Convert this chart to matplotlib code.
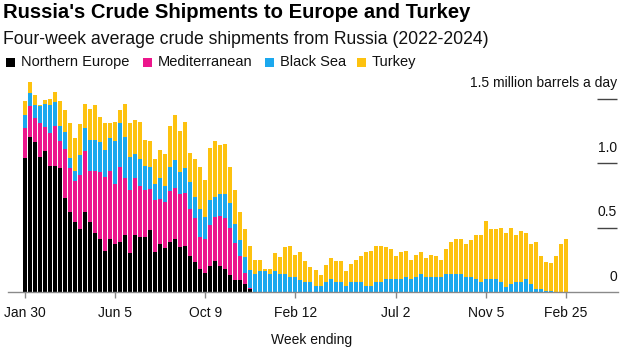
import matplotlib
matplotlib.use('Agg')
import matplotlib.pyplot as plt
from matplotlib.patches import Rectangle
import numpy as np
import pandas as pd

plt.rcParams['font.family'] = ['Liberation Sans', 'DejaVu Sans']

# ---------------- data (million barrels a day, four-week average) ----------------
week_ending = pd.date_range('2022-01-30', '2024-02-25', freq='7D')
n = len(week_ending)

northern_europe = [1.04, 1.20, 1.16, 1.05, 1.09, 0.98, 0.98, 0.96, 0.73, 0.62,
                   0.54, 0.49, 0.62, 0.54, 0.46, 0.41, 0.32, 0.41, 0.37, 0.39,
                   0.44, 0.30, 0.44, 0.43, 0.43, 0.48, 0.31, 0.37, 0.34, 0.39,
                   0.41, 0.35, 0.36, 0.28, 0.23, 0.18, 0.15, 0.20, 0.24, 0.20,
                   0.18, 0.13, 0.09, 0.09, 0.06, 0.02]
mediterranean = [0.23, 0.24, 0.19, 0.26, 0.19, 0.25, 0.31, 0.21, 0.38, 0.34,
                 0.32, 0.42, 0.47, 0.40, 0.48, 0.52, 0.57, 0.53, 0.47, 0.58,
                 0.44, 0.49, 0.44, 0.39, 0.36, 0.32, 0.40, 0.35, 0.36, 0.39,
                 0.40, 0.41, 0.41, 0.36, 0.34, 0.25, 0.26, 0.32, 0.34, 0.39,
                 0.39, 0.37, 0.29, 0.19, 0.09, 0.01]
black_sea = [0.10, 0.10, 0.10, 0.13, 0.18, 0.22, 0.18, 0.12, 0.13, 0.08,
             0.08, 0.15, 0.18, 0.24, 0.24, 0.23, 0.21, 0.25, 0.33, 0.34,
             0.32, 0.26, 0.19, 0.21, 0.19, 0.17, 0.13, 0.16, 0.12, 0.19,
             0.21, 0.17, 0.19, 0.21, 0.17, 0.21, 0.17, 0.19, 0.16, 0.17,
             0.19, 0.19, 0.15, 0.12, 0.12, 0.14, 0.14, 0.16, 0.16, 0.14,
             0.16, 0.14, 0.14, 0.12, 0.12, 0.09, 0.08, 0.08, 0.05, 0.05,
             0.08, 0.10, 0.08, 0.08, 0.05, 0.08, 0.08, 0.08, 0.05, 0.05,
             0.08, 0.08, 0.10, 0.10, 0.10, 0.10, 0.12, 0.10, 0.12, 0.14,
             0.12, 0.12, 0.12, 0.12, 0.14, 0.14, 0.14, 0.14, 0.12, 0.12,
             0.10, 0.08, 0.10, 0.10, 0.10, 0.08, 0.04, 0.06, 0.08, 0.08,
             0.10, 0.06, 0.02, 0.02, 0.005, 0.005, 0.0, 0.0, 0.0]
turkey = [0.11, 0.09, 0.08, 0.01, 0.03, 0.05, 0.08, 0.19, 0.17, 0.27,
          0.25, 0.24, 0.19, 0.24, 0.27, 0.20, 0.21, 0.12, 0.15, 0.10,
          0.26, 0.26, 0.26, 0.29, 0.20, 0.20, 0.19, 0.22, 0.25, 0.32,
          0.35, 0.32, 0.36, 0.23, 0.29, 0.33, 0.29, 0.41, 0.43, 0.38,
          0.39, 0.28, 0.26, 0.22, 0.22, 0.19, 0.11, 0.09, 0.02, 0.04,
          0.14, 0.13, 0.21, 0.24, 0.17, 0.22, 0.16, 0.11, 0.12, 0.08,
          0.13, 0.16, 0.16, 0.16, 0.11, 0.14, 0.17, 0.20, 0.26, 0.27,
          0.28, 0.28, 0.25, 0.23, 0.18, 0.21, 0.20, 0.15, 0.17, 0.17,
          0.14, 0.17, 0.16, 0.13, 0.19, 0.25, 0.27, 0.27, 0.25, 0.28,
          0.34, 0.36, 0.45, 0.39, 0.39, 0.42, 0.42, 0.44, 0.36, 0.39,
          0.36, 0.31, 0.37, 0.26, 0.23, 0.22, 0.28, 0.37, 0.41]

series_names = ["Northern Europe", "Mediterranean", "Black Sea", "Turkey"]
series_colors = ["#000000", "#ec168c", "#1ba8ee", "#fdc20f"]

tick_dates = ["2022-01-30", "2022-06-05", "2022-10-09", "2023-02-12",
              "2023-07-02", "2023-11-05", "2024-02-25"]
tick_labels = ["Jan 30", "Jun 5", "Oct 9", "Feb 12", "Jul 2", "Nov 5", "Feb 25"]
y_ticks = [0, 0.5, 1.0, 1.5]
y_tick_labels = ["0", "0.5", "1.0", "1.5 million barrels a day"]


def pad(values):
    arr = np.zeros(n)
    arr[:len(values)] = values
    return arr


stack = [pad(northern_europe), pad(mediterranean), pad(black_sea), pad(turkey)]

# ---------------- figure ----------------
W, H = 626, 350
fig = plt.figure(figsize=(W / 100, H / 100), dpi=100)
y_top = 1.7
px_per_unit = 129
ax_bottom_px = 292
ax_top_px = ax_bottom_px - y_top * px_per_unit
ax = fig.add_axes([8 / W, 1 - ax_bottom_px / H, 610 / W, (ax_bottom_px - ax_top_px) / H])

x = np.arange(n)
bottom = np.zeros(n)
for vals, col in zip(stack, series_colors):
    ax.bar(x, vals, bottom=bottom, width=0.8, color=col, linewidth=0, antialiased=False)
    bottom = bottom + vals

ax.set_xlim(-3.4, 118.4)
ax.set_ylim(0, y_top)

for s in ["top", "left", "right"]:
    ax.spines[s].set_visible(False)
ax.spines["bottom"].set_color("#8a8a8a")
ax.spines["bottom"].set_linewidth(1.0)

tick_pos = [int(np.where(week_ending == pd.Timestamp(d))[0][0]) for d in tick_dates]
ax.set_xticks(tick_pos)
ax.set_xticklabels(tick_labels)
ax.tick_params(axis="x", length=4, width=1, color="#8a8a8a", labelsize=10,
               labelcolor="#111111", pad=6)
ax.set_yticks([])

# right-side value labels with short rules
ytrans = ax.get_yaxis_transform()
for v, lab in zip(y_ticks, y_tick_labels):
    if v > 0:
        ax.plot([0.9656, 0.998], [v, v], transform=ytrans, color="#444444", lw=1.0,
                clip_on=False, solid_capstyle="butt")
    ax.text(0.998, v + 8 / px_per_unit, lab, transform=ytrans, ha="right", va="bottom",
            fontsize=10, color="#111111")

# titles
fig.text(3 / W, 1 - 18.5 / H, "Russia's Crude Shipments to Europe and Turkey",
         fontsize=14.6, fontweight="bold", ha="left", va="baseline", color="#000000")
fig.text(3 / W, 1 - 43.5 / H, "Four-week average crude shipments from Russia (2022-2024)",
         fontsize=12.7, ha="left", va="baseline", color="#111111")

# legend
leg_y = 62
sq = 9
leg_sq_x = [6, 143, 265, 357]
for xs, name, col in zip(leg_sq_x, series_names, series_colors):
    fig.patches.append(Rectangle((xs / W, 1 - (leg_y + sq / 2) / H), sq / W, sq / H,
                                 transform=fig.transFigure, color=col, lw=0))
    fig.text((xs + sq + 6) / W, 1 - leg_y / H, name, fontsize=10.5, ha="left",
             va="center", color="#111111")

fig.text(312 / W, 1 - 340 / H, "Week ending", fontsize=10, ha="center", va="center",
         color="#111111")

fig.savefig("out.png", dpi=100)
